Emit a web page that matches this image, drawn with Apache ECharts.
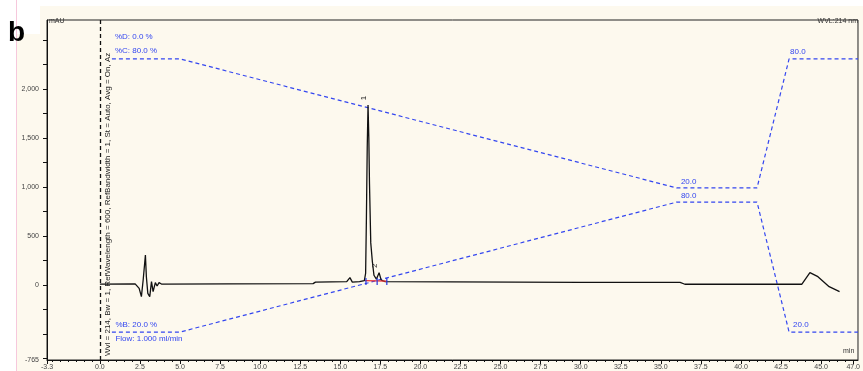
<!DOCTYPE html>
<html>
<head>
<meta charset="utf-8">
<script src="https://cdn.jsdelivr.net/npm/echarts@6/dist/echarts.min.js"></script>
<style>
  html, body { margin: 0; padding: 0; background: #fdf9ee; }
  #chart { width: 863px; height: 371px; }
</style>
</head>
<body>
<div id="chart"></div>
<script>
// chromatogram trace (time in min, signal in mAU)
const traceTime = [0, 2.2, 2.45, 2.59, 2.70, 2.84, 2.90, 2.99, 3.11, 3.22, 3.32, 3.46, 3.57, 3.69, 3.84,
  8.0, 13.3, 13.45, 15.4, 15.6, 15.75, 16.2, 16.5, 16.58, 16.63, 16.68, 16.73, 16.78, 16.82, 16.9,
  17.0, 17.1, 17.25, 17.42, 17.55, 17.8, 30.0, 36.2, 36.3, 36.5, 36.6, 36.7, 43.8, 44.3, 44.8, 45.5, 46.15];
const traceSignal = [10, 12, -34, -119, 51, 306, 85, -85, -119, 34, -68, 24, -10, 24, 10,
  12, 14, 30, 34, 75, 30, 35, 45, 120, 700, 1400, 1837, 1500, 1040, 430,
  240, 100, 60, 126, 50, 35, 28, 26, 8, 8, 14, 8, 8, 126, 85, -17, -68];

// peak labels
const peakNames = ['1', '2'];
const peakTime = [16.73, 17.42];
const peakSignal = [1837, 126];

// integration baseline + delimiters
const baseTime = [16.55, 17.9];
const baseSignal = [45, 40];
const delimTime = [16.6, 17.3, 17.9];

// gradient program
const gradTime = [0.75, 5.0, 36.0, 41.0, 43.0, 47.3];
const pctC = [80, 80, 20, 20, 80, 80];
const pctB = [20, 20, 80, 80, 20, 20];

// axis labels
const xLabels = [-3.3, 0, 2.5, 5, 7.5, 10, 12.5, 15, 17.5, 20, 22.5, 25, 27.5, 30, 32.5, 35, 37.5, 40, 42.5, 45, 47];
const yLabels = [-765, 0, 500, 1000, 1500, 2000];

const xMinor = [];
for (let t = -3; t <= 47; t += 0.5) xMinor.push(+t.toFixed(1));
const yTicks = [];
for (let v = -750; v <= 2500; v += 250) yTicks.push(v);

const BLUE = '#3346f0';
const tickFont = { fontFamily: 'Liberation Sans, Arial', fontSize: 7, color: '#444' };

const gradData = (vals, labels) => gradTime.map((t, i) => {
  const item = { value: [t, vals[i]] };
  if (labels[i]) item.label = Object.assign({ show: true }, labels[i]);
  return item;
});

const chart = echarts.init(document.getElementById('chart'), null, { renderer: 'canvas' });
chart.setOption({
  backgroundColor: '#fdf9ee',
  animation: false,
  grid: { left: 47, right: 3, top: 20, bottom: 11, show: true, borderColor: '#222', borderWidth: 1 },
  xAxis: [
    {
      type: 'value', min: -3.3, max: 47.3,
      axisLine: { onZero: false, lineStyle: { color: '#111' } },
      splitLine: { show: false },
      axisTick: { customValues: xLabels, length: 4, inside: false, lineStyle: { color: '#111' } },
      axisLabel: Object.assign({
        customValues: xLabels, margin: 4,
        formatter: v => v.toFixed(1)
      }, tickFont)
    },
    {
      type: 'value', min: -3.3, max: 47.3, position: 'bottom',
      axisLine: { show: false, onZero: false },
      splitLine: { show: false },
      axisTick: { customValues: xMinor, length: 2, lineStyle: { color: '#111' } },
      axisLabel: { show: false }
    }
  ],
  yAxis: [
    {
      type: 'value', min: -765, max: 2704,
      axisLine: { show: true, onZero: false, lineStyle: { color: '#111' } },
      splitLine: { show: false },
      axisTick: { show: true, customValues: yTicks, length: 4, lineStyle: { color: '#111' } },
      axisLabel: Object.assign({
        customValues: yLabels, margin: 8,
        formatter: v => v.toLocaleString('en-US')
      }, tickFont)
    },
    { type: 'value', min: -60, max: 98.1, show: false },
    { type: 'value', min: 7.1, max: 164, show: false }
  ],
  series: [
    {
      name: '%C', type: 'line', yAxisIndex: 1, z: 3,
      symbol: 'circle', symbolSize: 1,
      itemStyle: { color: 'rgba(0,0,0,0)' },
      lineStyle: { color: BLUE, width: 1.2, type: [4, 3] },
      label: { color: BLUE, fontSize: 8, fontFamily: 'Liberation Sans, Arial' },
      data: gradData(pctC, [
        { formatter: '%D: 0.0 %\n%C: 80.0 %', position: 'top', align: 'left', distance: 1, lineHeight: 14, offset: [3, 0] },
        null,
        { formatter: '20.0', position: 'top', align: 'left', distance: 2, offset: [4, 0] },
        null,
        { formatter: '80.0', position: 'top', align: 'left', distance: 3, offset: [1, 0] },
        null
      ])
    },
    {
      name: '%B', type: 'line', yAxisIndex: 2, z: 3,
      symbol: 'circle', symbolSize: 1,
      itemStyle: { color: 'rgba(0,0,0,0)' },
      lineStyle: { color: BLUE, width: 1.2, type: [4, 3] },
      label: { color: BLUE, fontSize: 8, fontFamily: 'Liberation Sans, Arial' },
      data: gradData(pctB, [
        { formatter: '%B: 20.0 %\nFlow: 1.000 ml/min', position: 'right', distance: 3, lineHeight: 14 },
        null,
        { formatter: '80.0', position: 'top', align: 'left', distance: 2, offset: [4, 0] },
        null,
        { formatter: '20.0', position: 'top', align: 'left', distance: 3, offset: [4, 0] },
        null
      ])
    },
    {
      name: 'trace', type: 'line', z: 4,
      symbol: 'none',
      lineStyle: { color: '#111', width: 1.3 },
      data: traceTime.map((t, i) => [t, traceSignal[i]]),
      markLine: {
        silent: true, symbol: 'none',
        lineStyle: { color: '#111', type: [4, 3], width: 1.3 },
        label: { show: false },
        data: [{ xAxis: 0 }]
      },
      markPoint: {
        symbol: 'circle', symbolSize: 0,
        label: { show: true, position: 'top', distance: 7, rotate: 90, color: '#222', fontSize: 8 },
        data: peakNames.map((n, i) => ({ coord: [peakTime[i], peakSignal[i]], value: n }))
      }
    },
    {
      name: 'baseline', type: 'line', z: 5, symbol: 'none',
      lineStyle: { color: '#ee3333', width: 1.2 },
      data: baseTime.map((t, i) => [t, baseSignal[i]])
    },
    {
      name: 'delims', type: 'scatter', z: 6,
      symbol: 'rect', symbolSize: [1.5, 7],
      itemStyle: { color: '#2233dd' },
      data: delimTime.map(t => [t, 35])
    }
  ],
  graphic: [
    { type: 'rect', left: 0, top: 0, shape: { width: 16, height: 371 }, style: { fill: '#ffffff' }, silent: true },
    { type: 'rect', left: 0, top: 0, shape: { width: 863, height: 6 }, style: { fill: '#ffffff' }, silent: true },
    { type: 'rect', left: 0, top: 0, shape: { width: 40, height: 34 }, style: { fill: '#ffffff' }, silent: true },
    { type: 'rect', left: 16, top: 0, shape: { width: 1, height: 371 }, style: { fill: '#f6c8dc' }, silent: true },
    { type: 'text', left: 8, top: 19, style: { text: 'b', font: 'bold 28px Liberation Sans, Arial', fill: '#000' } },
    { type: 'text', left: 49, top: 18, style: { text: 'mAU', font: '7px Liberation Sans, Arial', fill: '#333' } },
    { type: 'text', right: 5, top: 18, style: { text: 'WVL:214 nm', font: '7px Liberation Sans, Arial', fill: '#333' } },
    { type: 'text', left: 843, top: 348, style: { text: 'min', font: '7px Liberation Sans, Arial', fill: '#333' } },
    {
      type: 'text', x: 104, y: 356, rotation: Math.PI / 2,
      style: {
        text: 'Wvl = 214, Bw = 1, RefWavelength = 600, RefBandwidth = 1, St = Auto, Avg = On, Az',
        font: '8px Liberation Sans, Arial', fill: '#222', textVerticalAlign: 'top'
      }
    }
  ]
});
</script>
</body>
</html>
